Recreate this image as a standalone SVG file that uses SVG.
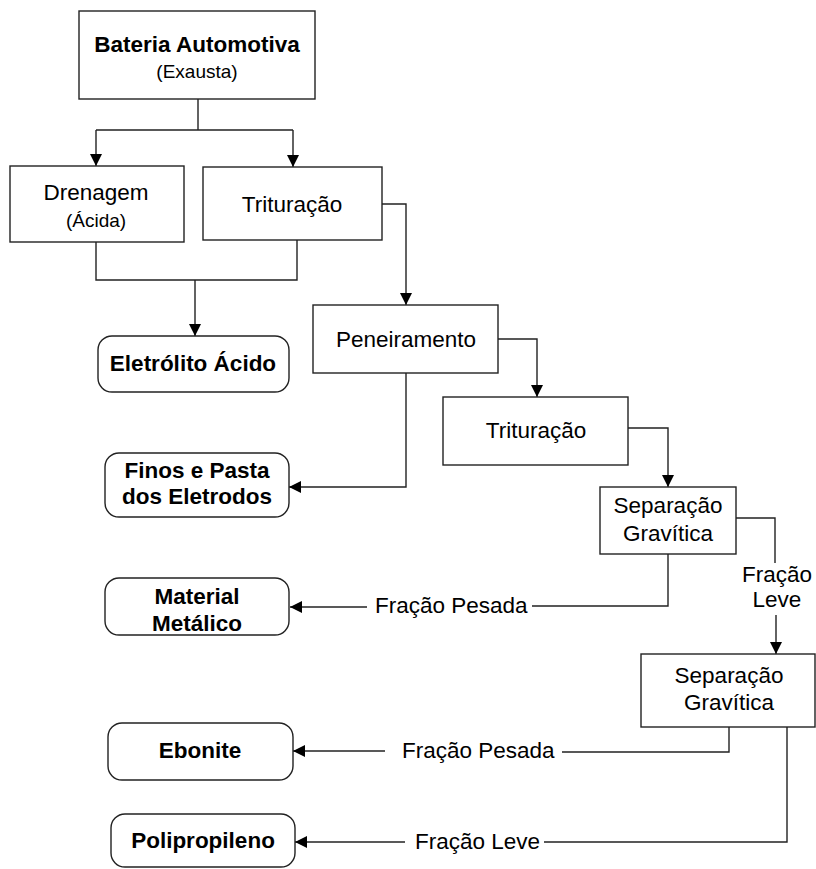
<svg xmlns="http://www.w3.org/2000/svg" width="816" height="869" viewBox="0 0 816 869">
<style>
.box{fill:#fff;stroke:#222;stroke-width:1.4}
.t{font-family:"Liberation Sans",Arial,sans-serif;font-size:22.5px;fill:#000;text-anchor:middle}
.b{font-weight:bold}
.s{font-size:19px}
.l{font-family:"Liberation Sans",Arial,sans-serif;font-size:22.5px;fill:#000}
.c{fill:none;stroke:#222;stroke-width:1.4}
</style>
<defs>
<marker id="ah" markerUnits="userSpaceOnUse" markerWidth="12" markerHeight="12" refX="12" refY="6" orient="auto">
<path d="M0,0 L12,6 L0,12 z" fill="#000"/>
</marker>
</defs>
<rect width="816" height="869" fill="#fff"/>
<g id="connectors">
<path class="c" d="M198,99 V130 M96,130 H293"/>
<path class="c" d="M96,130 V166" marker-end="url(#ah)"/>
<path class="c" d="M293,130 V167" marker-end="url(#ah)"/>
<path class="c" d="M96,242 V280 H297 V240 M195,280 V336" marker-end="url(#ah)"/>
<path class="c" d="M382,204 H406 V305" marker-end="url(#ah)"/>
<path class="c" d="M406,373 V487 H289" marker-end="url(#ah)"/>
<path class="c" d="M498,339 H537 V397" marker-end="url(#ah)"/>
<path class="c" d="M628,428 H668 V487" marker-end="url(#ah)"/>
<path class="c" d="M668,554 V606 H532"/>
<path class="c" d="M367,607 H290" marker-end="url(#ah)"/>
<path class="c" d="M736,518 H775 V563"/>
<path class="c" d="M776,615 V654" marker-end="url(#ah)"/>
<path class="c" d="M729,727 V752 H562"/>
<path class="c" d="M385,751 H293" marker-end="url(#ah)"/>
<path class="c" d="M787,727 V842 H544"/>
<path class="c" d="M405,842 H295" marker-end="url(#ah)"/>
<text class="l" x="375" y="613">Fração Pesada</text>
<text class="t" x="777" y="582">Fração</text>
<text class="t" x="777" y="607">Leve</text>
<text class="l" x="402" y="758">Fração Pesada</text>
<text class="l" x="415" y="849">Fração Leve</text>
</g>
<g id="bateria">
<rect class="box" x="79" y="11" width="236" height="88"/>
<text class="t b" x="197" y="52">Bateria Automotiva</text>
<text class="t s" x="197" y="78">(Exausta)</text>
</g>
<g id="drenagem">
<rect class="box" x="10" y="166" width="174" height="76"/>
<text class="t" x="96" y="200">Drenagem</text>
<text class="t s" x="96" y="227">(Ácida)</text>
</g>
<g id="trituracao1">
<rect class="box" x="203" y="167" width="179" height="73"/>
<text class="t" x="292" y="212">Trituração</text>
</g>
<g id="eletrolito">
<rect class="box" x="98" y="336" width="191" height="56" rx="14"/>
<text class="t b" x="193" y="371">Eletrólito Ácido</text>
</g>
<g id="peneiramento">
<rect class="box" x="313" y="305" width="185" height="68"/>
<text class="t" x="406" y="347">Peneiramento</text>
</g>
<g id="trituracao2">
<rect class="box" x="443" y="397" width="185" height="68"/>
<text class="t" x="536" y="438">Trituração</text>
</g>
<g id="finos">
<rect class="box" x="105" y="453" width="184" height="64" rx="14"/>
<text class="t b" x="197" y="478">Finos e Pasta</text>
<text class="t b" x="197" y="504">dos Eletrodos</text>
</g>
<g id="separacao1">
<rect class="box" x="600" y="487" width="136" height="67"/>
<text class="t" x="668" y="513">Separação</text>
<text class="t" x="668" y="541">Gravítica</text>
</g>
<g id="material">
<rect class="box" x="105" y="578" width="184" height="57" rx="14"/>
<text class="t b" x="197" y="604">Material</text>
<text class="t b" x="197" y="631">Metálico</text>
</g>
<g id="separacao2">
<rect class="box" x="641" y="654" width="174" height="73"/>
<text class="t" x="729" y="683">Separação</text>
<text class="t" x="729" y="710">Gravítica</text>
</g>
<g id="ebonite">
<rect class="box" x="108" y="723" width="185" height="57" rx="14"/>
<text class="t b" x="200" y="758">Ebonite</text>
</g>
<g id="polipropileno">
<rect class="box" x="111" y="814" width="184" height="53" rx="14"/>
<text class="t b" x="203" y="848">Polipropileno</text>
</g>
</svg>
